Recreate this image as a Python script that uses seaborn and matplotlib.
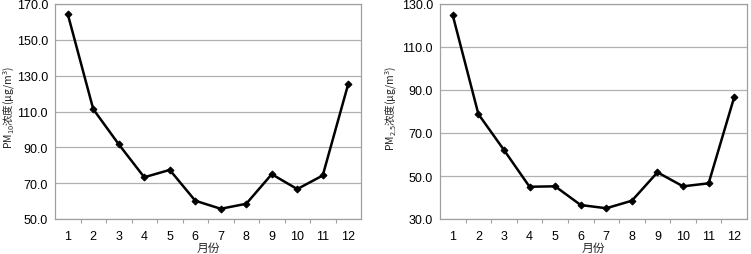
import numpy as np
import pandas as pd
import matplotlib
matplotlib.use('Agg')
import matplotlib.pyplot as plt
import seaborn as sns
from matplotlib.ticker import FixedLocator, FormatStrFormatter

# data
months = list(range(1, 13))
pm10 = [164.4, 111.3, 91.7, 73.3, 77.4, 60.2, 55.7, 58.5, 75.0, 66.7, 74.3, 125.4]
pm25 = [124.7, 78.8, 62.1, 45.0, 45.2, 36.5, 35.0, 38.5, 51.7, 45.2, 46.6, 86.7]
pm10_ticks = [50, 70, 90, 110, 130, 150, 170]
pm25_ticks = [30, 50, 70, 90, 110, 130]

sns.set_theme(style='white')
plt.rcParams['font.family'] = ['Liberation Sans', 'Noto Sans CJK SC', 'DejaVu Sans']
plt.rcParams['mathtext.default'] = 'regular'

fig = plt.figure(figsize=(7.51, 2.55), dpi=100)
W, H = 751, 255
ax1 = fig.add_axes([55 / W, 1 - 220 / H, (361 - 55) / W, (220 - 5) / H])
ax2 = fig.add_axes([440 / W, 1 - 220 / H, (747 - 440) / W, (220 - 5) / H])

panels = [
    (ax1, pm10, pm10_ticks, r'PM$_{10}$浓度(μg/m$^{3}$)', 9),
    (ax2, pm25, pm25_ticks, r'PM$_{2.5}$浓度(μg/m$^{3}$)', 391),
]

for ax, vals, yt, ylab, labx in panels:
    df = pd.DataFrame({'month': months, 'value': vals})
    sns.lineplot(data=df, x='month', y='value', ax=ax, color='black', lw=1.8,
                 marker='D', markersize=3.5, markeredgecolor='black')
    ax.set_xlim(0.5, 12.5)
    ax.set_ylim(yt[0], yt[-1])
    ax.yaxis.set_major_locator(FixedLocator(yt))
    ax.yaxis.set_major_formatter(FormatStrFormatter('%.1f'))
    ax.xaxis.set_major_locator(FixedLocator(months))
    ax.xaxis.set_minor_locator(FixedLocator(np.arange(1.5, 12, 1)))
    ax.grid(axis='y', color='#b0b0b0', lw=0.9)
    ax.set_axisbelow(True)
    for sp in ax.spines.values():
        sp.set_color('#a0a0a0')
        sp.set_linewidth(0.9)
    ax.tick_params(axis='x', which='major', length=0, labelsize=9, pad=8)
    ax.tick_params(axis='x', which='minor', length=3, color='#a0a0a0', width=0.8, bottom=True)
    ax.tick_params(axis='y', length=0, labelsize=9, pad=5)
    for t in ax.get_xticklabels() + ax.get_yticklabels():
        t.set_color('black')
    ax.set_xlabel('月份', fontsize=8.5, family=['Noto Sans CJK SC'], labelpad=-1)
    ax.set_ylabel('')
    fig.text(labx / W, 1 - 108 / H, ylab, rotation=90, ha='center', va='center',
             fontsize=7.5, family=['Noto Sans CJK SC'])

fig.savefig('out.png', dpi=100)
